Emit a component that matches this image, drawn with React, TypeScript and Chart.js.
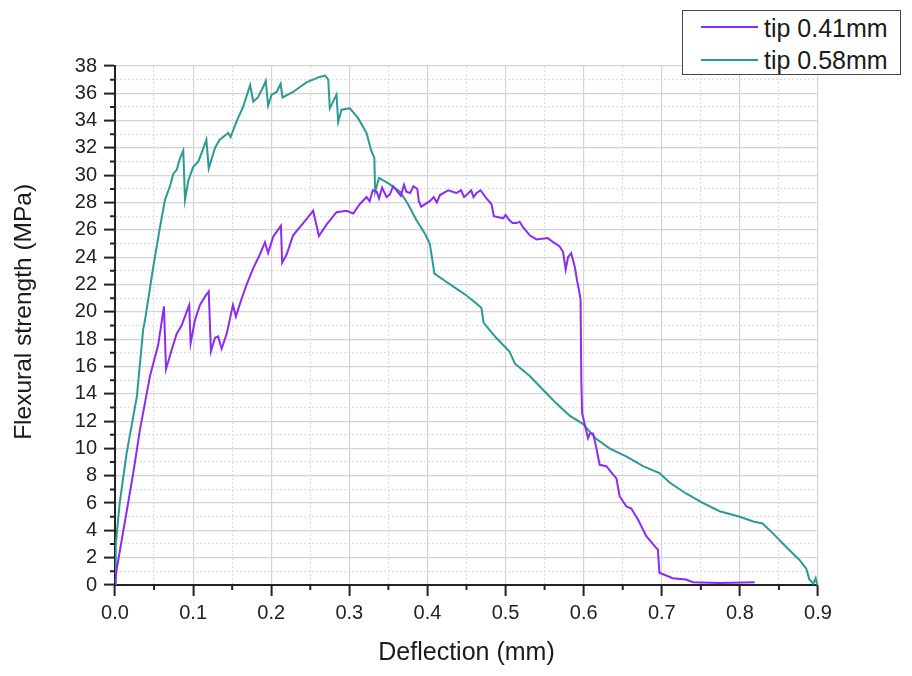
import { useEffect, useRef } from "react"
import { Chart, registerables } from "chart.js"

Chart.register(...registerables)

const FONT = "'Liberation Sans', Arial, Helvetica, sans-serif"

// tip 0.41mm : deflection (mm) / flexural strength (MPa)
const tip041X = [
  0, 0.002, 0.0234, 0.032, 0.0448, 0.0554, 0.0627, 0.0653, 0.0725, 0.079, 0.0853, 0.0917, 0.095,
  0.0968, 0.1024, 0.1088, 0.115, 0.12, 0.1228, 0.128, 0.132, 0.1365, 0.143, 0.151, 0.1548, 0.16,
  0.1685, 0.177, 0.1855, 0.192, 0.196, 0.2025, 0.2124, 0.214, 0.2197, 0.228, 0.241, 0.2495, 0.2537,
  0.261, 0.271, 0.2836, 0.2964, 0.305, 0.3135, 0.322, 0.326, 0.33, 0.335, 0.338, 0.342, 0.3476,
  0.352, 0.356, 0.3604, 0.366, 0.37, 0.373, 0.378, 0.382, 0.387, 0.389, 0.392, 0.403, 0.408, 0.412,
  0.416, 0.4265, 0.437, 0.443, 0.447, 0.45, 0.456, 0.459, 0.463, 0.468, 0.4755, 0.482, 0.485, 0.497,
  0.5, 0.505, 0.509, 0.514, 0.518, 0.5224, 0.531, 0.5395,
  0.554, 0.561, 0.569, 0.5736, 0.577, 0.58, 0.584, 0.5886, 0.5915, 0.594, 0.596, 0.597, 0.598,
  0.601, 0.6056, 0.608, 0.612, 0.616, 0.6205, 0.629, 0.6375, 0.642, 0.646, 0.6547, 0.661, 0.6695,
  0.68, 0.693, 0.695, 0.697, 0.714, 0.731, 0.74, 0.774, 0.819,
]
const tip041Y = [
  0, 1.1, 8.2, 11.4, 15.3, 17.6, 20.4, 15.8, 17.2, 18.4, 19.0, 20.0, 20.5,
  17.7, 19.4, 20.5, 21.1, 21.5, 17.1, 18.1, 18.2, 17.3, 18.4, 20.5, 19.65, 20.6,
  22.0, 23.2, 24.2, 25.1, 24.3, 25.5, 26.3, 23.6, 24.2, 25.6, 26.5, 27.1, 27.4,
  25.55, 26.4, 27.3, 27.4, 27.2, 27.9, 28.4, 28.1, 28.9, 28.8, 28.3, 29.1, 28.4,
  28.6, 29.2, 28.9, 28.5, 29.3, 28.8, 28.7, 29.2, 29.0, 28.1, 27.7, 28.1, 28.4, 28.0,
  28.55, 28.9, 28.7, 28.9, 28.4, 28.55, 28.9, 28.4, 28.7, 28.9, 28.3, 27.9, 27.0, 26.85,
  27.1, 26.7, 26.5, 26.5, 26.6, 26.2, 25.6, 25.3,
  25.4, 25.1, 24.8, 24.4, 23.1, 24.0, 24.3, 23.3, 22.3, 21.6, 20.9, 15.0, 12.6,
  11.85, 10.75, 11.1, 11.1, 10.1, 8.8, 8.7, 8.1, 7.8, 6.5, 5.75, 5.6, 4.8,
  3.6, 2.7, 2.6, 0.9, 0.5, 0.4, 0.2, 0.15, 0.2,
]

// tip 0.58mm
const tip058X = [
  0, 0.001, 0.006, 0.015, 0.016, 0.028, 0.036, 0.0384, 0.049, 0.0576, 0.064, 0.0704, 0.0746, 0.079,
  0.083, 0.0874, 0.0896, 0.0938, 0.1, 0.1066, 0.112, 0.117, 0.12, 0.128, 0.134, 0.145, 0.148, 0.156,
  0.164, 0.173, 0.177, 0.183, 0.19, 0.193, 0.196, 0.2005, 0.207, 0.212, 0.2145, 0.228, 0.245, 0.262,
  0.269, 0.273, 0.275, 0.2836, 0.2857, 0.29, 0.3007, 0.311, 0.322, 0.328, 0.332, 0.333, 0.338, 0.35,
  0.365, 0.375, 0.386, 0.397, 0.403, 0.409, 0.424, 0.437, 0.45, 0.463, 0.469, 0.472, 0.488, 0.505,
  0.512, 0.531, 0.548, 0.565, 0.582, 0.599, 0.616, 0.633, 0.655, 0.676, 0.697, 0.71, 0.731, 0.753,
  0.774, 0.8, 0.817, 0.829, 0.842, 0.859, 0.876, 0.885, 0.889, 0.894, 0.897, 0.899,
]
const tip058Y = [
  0, 3.0, 6.0, 9.7, 10.0, 13.8, 18.7, 19.4, 23.3, 26.2, 28.2, 29.2, 30.1, 30.4,
  31.2, 31.8, 28.2, 29.6, 30.6, 31.0, 31.8, 32.6, 30.5, 32.0, 32.6, 33.1, 32.8, 34.0,
  35.0, 36.6, 35.4, 35.7, 36.5, 36.9, 35.1, 35.9, 36.1, 36.7, 35.7, 36.1, 36.8, 37.2,
  37.3, 37.0, 34.9, 35.9, 33.9, 34.8, 34.9, 34.2, 33.1, 31.8, 31.3, 28.8, 29.8, 29.4,
  28.8, 27.9, 26.7, 25.7, 25.0, 22.8, 22.2, 21.7, 21.2, 20.6, 20.3, 19.2, 18.1, 17.1,
  16.2, 15.3, 14.3, 13.3, 12.4, 11.8, 10.7, 10.0, 9.4, 8.7, 8.2, 7.5, 6.7, 6.0,
  5.4, 5.0, 4.65, 4.5, 3.8, 2.8, 1.85, 1.2, 0.4, 0.1, 0.5, 0.0,
]

const seriesNames = ["tip 0.41mm", "tip 0.58mm"]
const seriesColors = ["#8c2cf2", "#2b9a94"]

const isMajorX = (v: number) => Math.round(v * 100) % 10 === 0
const isMajorY = (v: number) => Math.round(v) % 2 === 0

// 短い副目盛りを描く
const minorTicks = {
  id: "minorTicks",
  afterDraw(chart: any) {
    const { ctx, chartArea, scales } = chart
    ctx.save()
    ctx.strokeStyle = "#222"
    ctx.lineWidth = 2
    ctx.beginPath()
    scales.x.ticks.forEach((t: any) => {
      if (isMajorX(t.value)) return
      const px = scales.x.getPixelForValue(t.value)
      ctx.moveTo(px, chartArea.bottom)
      ctx.lineTo(px, chartArea.bottom + 5)
    })
    scales.y.ticks.forEach((t: any) => {
      if (isMajorY(t.value)) return
      const py = scales.y.getPixelForValue(t.value)
      ctx.moveTo(chartArea.left - 5, py)
      ctx.lineTo(chartArea.left, py)
    })
    ctx.stroke()
    ctx.restore()
  },
}

function toPoints(xs: number[], ys: number[]) {
  return xs.map((x, i) => ({ x, y: ys[i] }))
}

function FlexuralChart() {
  const canvasRef = useRef<HTMLCanvasElement>(null)
  const chartRef = useRef<Chart | null>(null)

  useEffect(() => {
    if (!canvasRef.current) return
    if (chartRef.current) chartRef.current.destroy()
    const ctx = canvasRef.current.getContext("2d")
    if (!ctx) return

    Chart.defaults.font.family = FONT

    chartRef.current = new Chart(ctx, {
      type: "line",
      data: {
        datasets: [
          {
            label: seriesNames[0],
            data: toPoints(tip041X, tip041Y),
            borderColor: seriesColors[0],
            borderWidth: 2,
            pointRadius: 0,
            tension: 0,
          },
          {
            label: seriesNames[1],
            data: toPoints(tip058X, tip058Y),
            borderColor: seriesColors[1],
            borderWidth: 2,
            pointRadius: 0,
            tension: 0,
          },
        ],
      },
      options: {
        animation: false,
        responsive: true,
        maintainAspectRatio: false,
        layout: { padding: { left: 0, right: 94, top: 66, bottom: 0 } },
        plugins: {
          legend: { display: false },
          tooltip: { enabled: false },
        },
        scales: {
          x: {
            type: "linear",
            min: 0,
            max: 0.9,
            afterFit: (s: any) => {
              s.height = 91
            },
            ticks: {
              stepSize: 0.05,
              autoSkip: false,
              maxRotation: 0,
              padding: 5,
              color: "#222",
              font: { size: 20 },
              callback: (v: any) => (isMajorX(Number(v)) ? Number(v).toFixed(1) : ""),
            },
            grid: {
              color: (c: any) => (c.tick && isMajorX(c.tick.value) ? "#d4d4d4" : "#dedede"),
              lineWidth: 1.2,
              tickLength: 11,
              tickWidth: 2,
              tickColor: (c: any) => (c.tick && isMajorX(c.tick.value) ? "#222" : "rgba(0,0,0,0)"),
            },
            border: {
              display: true,
              color: "#222",
              width: 2,
              dash: (c: any) => (c.tick && !isMajorX(c.tick.value) ? [2, 2] : []),
            },
            title: {
              display: true,
              text: "Deflection (mm)",
              color: "#1a1a1a",
              font: { size: 25 },
              padding: { top: 0, bottom: 8 },
            },
          },
          y: {
            type: "linear",
            min: 0,
            max: 38,
            afterFit: (s: any) => {
              s.width = 115
            },
            ticks: {
              stepSize: 1,
              autoSkip: false,
              padding: 7,
              color: "#222",
              font: { size: 20 },
              callback: (v: any) => (isMajorY(Number(v)) ? String(v) : ""),
            },
            grid: {
              color: (c: any) => (c.tick && isMajorY(c.tick.value) ? "#d4d4d4" : "#dedede"),
              lineWidth: 1.2,
              tickLength: 11,
              tickWidth: 2,
              tickColor: (c: any) => (c.tick && isMajorY(c.tick.value) ? "#222" : "rgba(0,0,0,0)"),
            },
            border: {
              display: true,
              color: "#222",
              width: 2,
              dash: (c: any) => (c.tick && !isMajorY(c.tick.value) ? [2, 2] : []),
            },
            title: {
              display: true,
              // 先頭の空白でタイトルを少し上にずらす
              text: "    Flexural strength (MPa)",
              color: "#1a1a1a",
              font: { size: 24.5 },
              padding: { top: 10, bottom: 0 },
            },
          },
        },
      },
      plugins: [minorTicks],
    })

    return () => {
      if (chartRef.current) {
        chartRef.current.destroy()
        chartRef.current = null
      }
    }
  }, [])

  return <canvas ref={canvasRef} />
}

function Legend() {
  const rows = seriesNames.map((name, i) => (
    <div key={name}>
      <div
        style={{
          position: "absolute",
          left: 18,
          top: i === 0 ? 15 : 48,
          width: 57,
          height: 0,
          borderTop: `2px solid ${seriesColors[i]}`,
        }}
      />
      <div
        style={{
          position: "absolute",
          left: 81,
          top: i === 0 ? 5 : 37,
          fontSize: 25,
          lineHeight: "25px",
          fontFamily: FONT,
          color: "#1a1a1a",
          whiteSpace: "nowrap",
        }}
      >
        {name}
      </div>
    </div>
  ))
  return (
    <div
      style={{
        position: "absolute",
        left: 682,
        top: 10,
        width: 219,
        height: 65,
        boxSizing: "border-box",
        border: "1.5px solid #444",
        background: "#fff",
      }}
    >
      {rows}
    </div>
  )
}

export default function App() {
  return (
    <div style={{ position: "absolute", left: 0, top: 0, width: 912, height: 676, background: "#fff" }}>
      <div style={{ position: "absolute", left: 0, top: 0, width: 912, height: 676 }}>
        <FlexuralChart />
      </div>
      <Legend />
    </div>
  )
}
